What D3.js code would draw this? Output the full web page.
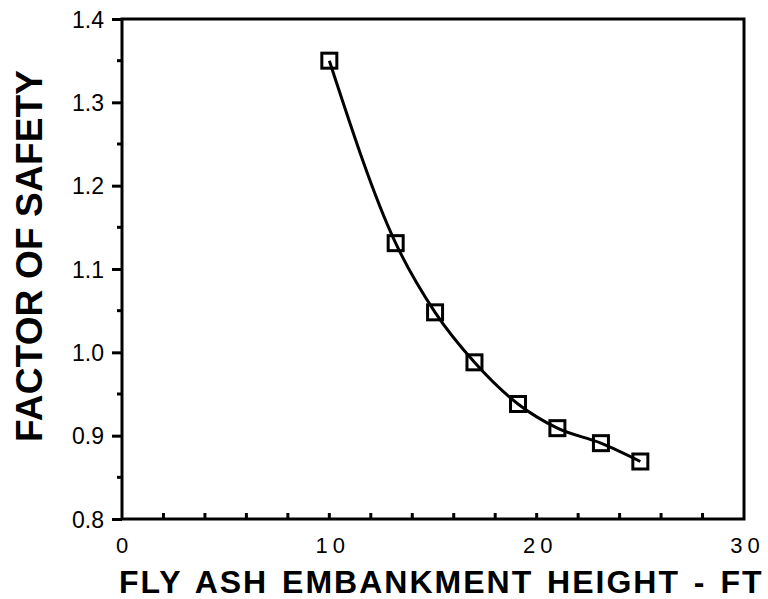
<!DOCTYPE html>
<html>
<head>
<meta charset="utf-8">
<script src="https://cdn.jsdelivr.net/npm/d3@7"></script>
<style>
  html, body { margin: 0; padding: 0; background: #fff; }
  svg { display: block; }
  text { font-family: "Liberation Sans", Arial, Helvetica, sans-serif; fill: #000; }
</style>
</head>
<body>
<svg id="chart" width="768" height="599"></svg>
<script>
// Embankment height (ft) and computed factor of safety
const heights = [10, 13.2, 15.1, 17, 19.1, 21, 23.1, 25];
const safety  = [1.35, 1.131, 1.048, 0.988, 0.938, 0.909, 0.891, 0.869];

const xTickLabels = [0, 10, 20, 30];
const yTickLabels = [0.8, 0.9, 1.0, 1.1, 1.2, 1.3, 1.4];

const svg = d3.select("#chart");
const m = { left: 122, right: 744, top: 19, bottom: 519 };
const sw = 3;

const x = d3.scaleLinear().domain([0, 30]).range([m.left, m.right]);
const y = d3.scaleLinear().domain([0.8, 1.4]).range([m.bottom, m.top]);

// frame
svg.append("rect")
  .attr("x", m.left).attr("y", m.top)
  .attr("width", m.right - m.left).attr("height", m.bottom - m.top)
  .attr("fill", "none").attr("stroke", "#000").attr("stroke-width", sw);

// y axis: major ticks outward with labels, minor ticks halfway
const yAxis = svg.append("g").attr("transform", `translate(${m.left},0)`);
yAxis.call(d3.axisLeft(y).tickValues(yTickLabels).tickSize(10).tickPadding(8)
  .tickFormat(d3.format(".1f")));
yAxis.select(".domain").remove();
yAxis.selectAll("line").attr("stroke-width", sw);
yAxis.selectAll("text").style("font-size", "23px").attr("dy", "0.36em");
const yMinor = d3.range(0.85, 1.4, 0.1);
svg.append("g").selectAll("line").data(yMinor).join("line")
  .attr("x1", m.left - 5).attr("x2", m.left)
  .attr("y1", d => y(d)).attr("y2", d => y(d))
  .attr("stroke", "#000").attr("stroke-width", sw);

// x axis: inward ticks every 2 ft, labels every 10 ft
const xMinor = d3.range(2, 30, 2);
svg.append("g").selectAll("line").data(xMinor).join("line")
  .attr("x1", d => x(d)).attr("x2", d => x(d))
  .attr("y1", m.bottom).attr("y2", m.bottom - 6)
  .attr("stroke", "#000").attr("stroke-width", sw);
const xAxis = svg.append("g").attr("transform", `translate(0,${m.bottom})`);
xAxis.call(d3.axisBottom(x).tickValues(xTickLabels).tickSize(0).tickPadding(18)
  .tickFormat(d3.format("d")));
xAxis.select(".domain").remove();
xAxis.selectAll("text").style("font-size", "22px").style("letter-spacing", "5px")
  .attr("dx", d => d === 0 ? "2px" : "3px");

// axis titles
svg.append("text")
  .attr("x", 119).attr("y", 593)
  .style("font-size", "32px").style("font-weight", "bold")
  .style("letter-spacing", "2px").style("word-spacing", "3px")
  .text("FLY ASH EMBANKMENT HEIGHT - FT");
svg.append("text")
  .attr("transform", "translate(42,256) rotate(-90)")
  .attr("text-anchor", "middle")
  .attr("textLength", 372).attr("lengthAdjust", "spacing")
  .style("font-size", "37px").style("font-weight", "bold")
  .text("FACTOR OF SAFETY");

// fitted curve
const pts = heights.map((h, i) => [h, safety[i]]);
svg.append("path")
  .datum(pts)
  .attr("fill", "none").attr("stroke", "#000").attr("stroke-width", sw)
  .attr("d", d3.line().x(d => x(d[0])).y(d => y(d[1])).curve(d3.curveMonotoneX));

// square markers
const s = 15;
svg.append("g").selectAll("rect").data(pts).join("rect")
  .attr("x", d => x(d[0]) - s / 2).attr("y", d => y(d[1]) - s / 2)
  .attr("width", s).attr("height", s)
  .attr("fill", "none").attr("stroke", "#000").attr("stroke-width", sw);
</script>
</body>
</html>
